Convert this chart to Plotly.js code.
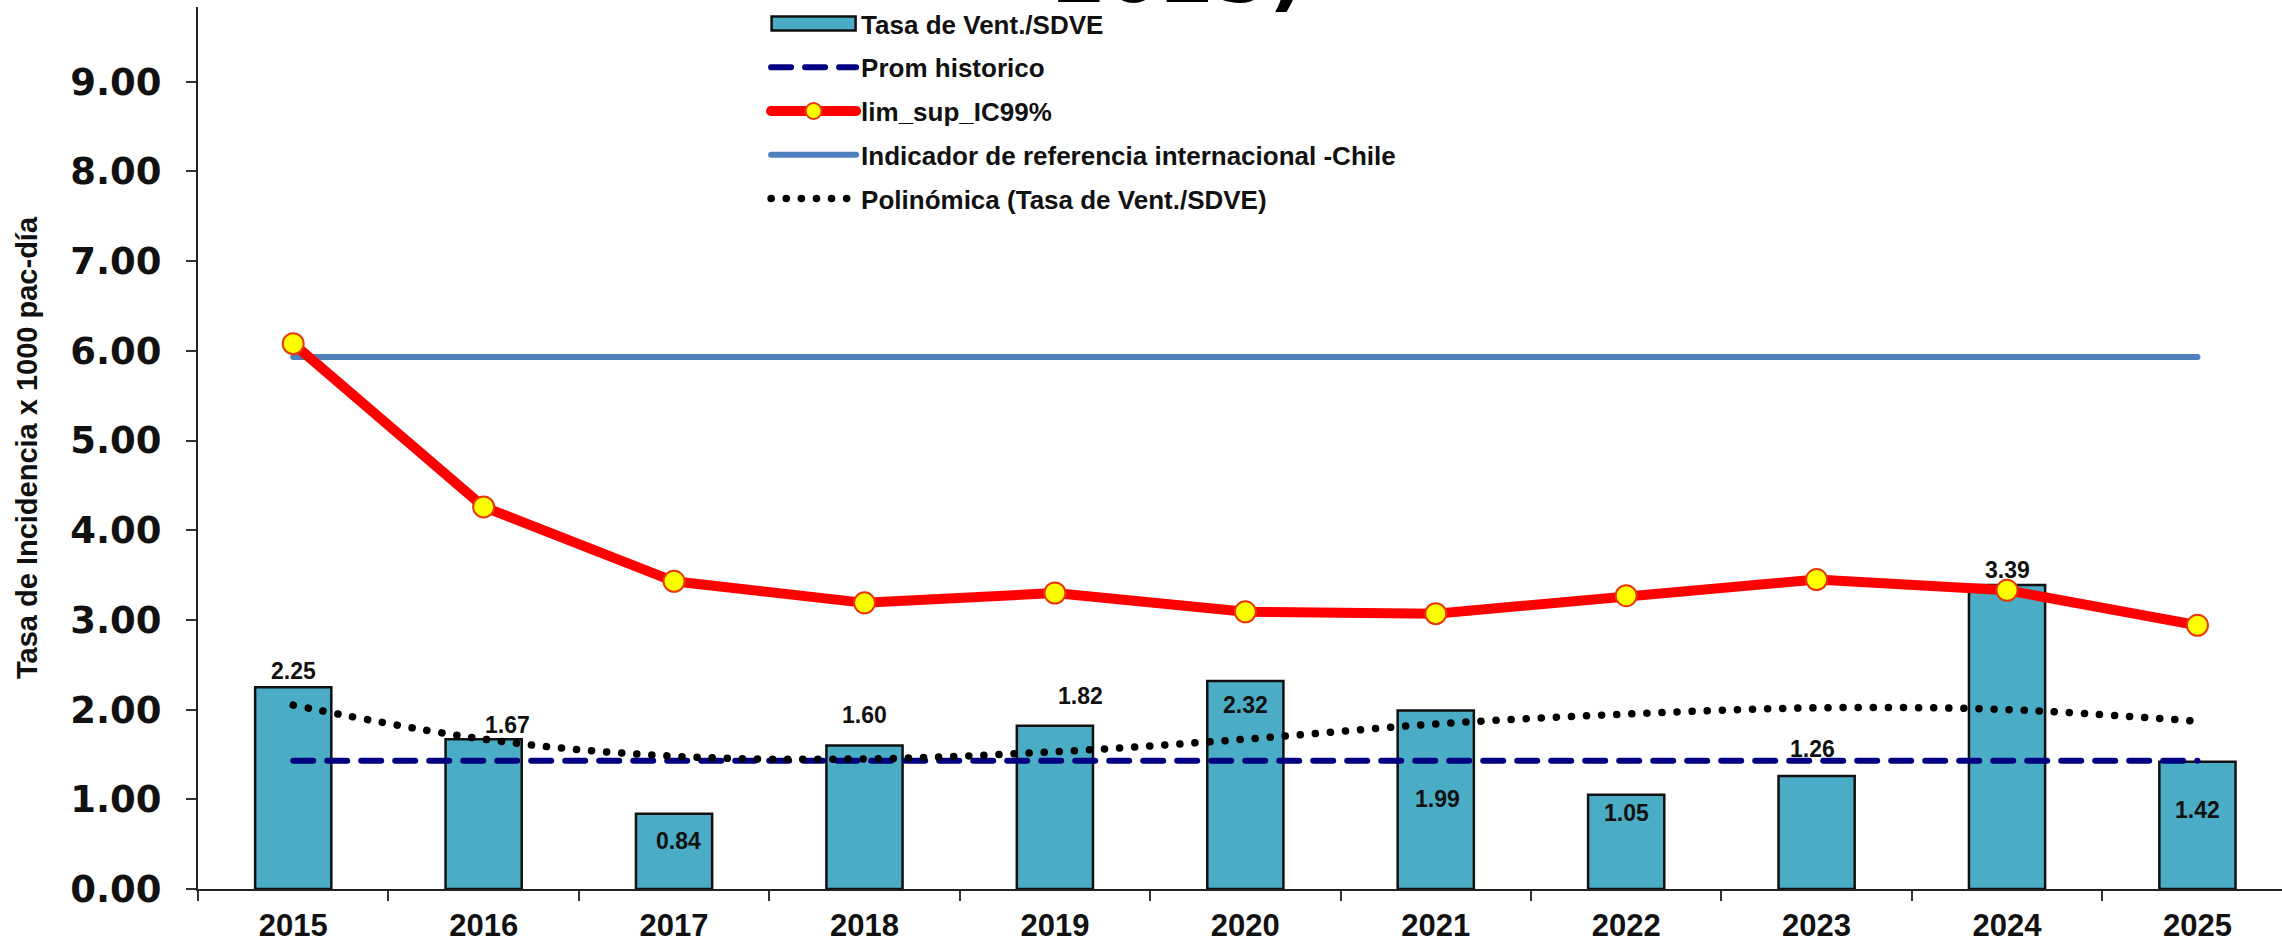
<!DOCTYPE html>
<html><head><meta charset="utf-8">
<script src="https://cdn.plot.ly/plotly-3.0.1.min.js"></script>
<style>
html,body{margin:0;padding:0;background:#fff;overflow:hidden}
#chart{width:2282px;height:942px}
.scatterlayer .js-line, .legendlines .js-line{stroke-linecap:round;}
</style></head><body><div id="chart"></div>
<script>
// ---- data ----
const years = ['2015','2016','2017','2018','2019','2020','2021','2022','2023','2024','2025'];
const tasaVent = [2.25, 1.67, 0.84, 1.60, 1.82, 2.32, 1.99, 1.05, 1.26, 3.39, 1.42];
const promHistorico = [1.43, 1.43, 1.43, 1.43, 1.43, 1.43, 1.43, 1.43, 1.43, 1.43, 1.43];
const limSupIC99 = [6.08, 4.26, 3.43, 3.19, 3.30, 3.09, 3.07, 3.27, 3.45, 3.33, 2.94];
const indicadorChile = [5.93, 5.93, 5.93, 5.93, 5.93, 5.93, 5.93, 5.93, 5.93, 5.93, 5.93];
const polinomica = [2.05, 1.67, 1.48, 1.45, 1.53, 1.67, 1.84, 1.95, 2.02, 2.00, 1.87];
const yTicks = [0, 1, 2, 3, 4, 5, 6, 7, 8, 9];
const seriesNames = ['Tasa de Vent./SDVE', 'Prom historico', 'lim_sup_IC99%',
  'Indicador de referencia internacional -Chile', 'Polinómica (Tasa de Vent./SDVE)'];
const yTitle = 'Tasa de Incidencia x 1000 pac-día';
const titleTail = '2025)';

// ---- label placement (style only, pixels) ----
const labelDX = [0, 24, 4, 0, 26, 0, 2, 0, -4, 0, 0];
const labelDY = [16, 14, -27, 30, 30, -24, -88, -18, 27, 15, -48];

const boldArial = {family: 'Liberation Sans, Arial, sans-serif', weight: 700, color: '#111'};

const traces = [
  {type: 'bar', x: years, y: tasaVent, name: seriesNames[0], legendrank: 1, legendgroup: 'a',
   width: 0.4, marker: {color: '#4BACC6', line: {color: '#111', width: 2.5}}, hoverinfo: 'skip'},
  {type: 'scatter', mode: 'lines', x: years, y: promHistorico, name: seriesNames[1], legendrank: 2, legendgroup: 'b',
   line: {color: '#000080', width: 6, dash: '20px,14px'}},
  {type: 'scatter', mode: 'lines', x: years, y: polinomica, name: seriesNames[4], legendrank: 5, legendgroup: 'e',
   line: {color: '#000', width: 7.5, dash: '0.1px,15px', shape: 'spline'}},
  {type: 'scatter', mode: 'lines', x: years, y: indicadorChile, name: seriesNames[3], legendrank: 4, legendgroup: 'd',
   line: {color: '#4F81BD', width: 6}},
  {type: 'scatter', mode: 'lines+markers', x: years, y: limSupIC99, name: seriesNames[2], legendrank: 3, legendgroup: 'c',
   line: {color: '#FF0000', width: 10},
   marker: {color: '#FFFF00', size: 21, line: {color: '#E8380A', width: 2}}}
];

const annotations = years.map((yr, i) => ({
  x: i, y: tasaVent[i], xref: 'x', yref: 'y', text: tasaVent[i].toFixed(2),
  showarrow: false, xanchor: 'center', yanchor: 'middle',
  xshift: labelDX[i], yshift: labelDY[i],
  font: Object.assign({size: 23}, boldArial)
}));
annotations.push({
  text: titleTail, xref: 'paper', yref: 'paper', x: 0.4707, y: 0.983,
  xanchor: 'center', yanchor: 'bottom', showarrow: false,
  font: {family: 'DejaVu Sans, sans-serif', size: 78, weight: 700, color: '#000'}
});

const layout = {
  width: 2282, height: 942,
  margin: {l: 198, r: 0, t: 7, b: 53, pad: 0},
  paper_bgcolor: '#fff', plot_bgcolor: '#fff',
  showlegend: true,
  legend: {x: 0.2726, xanchor: 'left', y: 1.008, yanchor: 'top',
    font: Object.assign({size: 26}, boldArial), bgcolor: 'rgba(0,0,0,0)',
    itemwidth: 85, tracegroupgap: 7, traceorder: 'grouped'},
  xaxis: {type: 'category', range: [-0.5, 10.444], tickson: 'boundaries',
    ticks: 'outside', ticklen: 10, tickwidth: 2, tickcolor: '#333',
    showline: true, linecolor: '#222', linewidth: 2, showgrid: false, zeroline: false,
    tickfont: Object.assign({size: 31}, boldArial), ticklabelstandoff: 8},
  yaxis: {range: [0, 9.833], tickvals: yTicks, tickformat: '.2f',
    ticks: 'outside', ticklen: 10, tickwidth: 2, tickcolor: '#333',
    showline: true, linecolor: '#222', linewidth: 2, showgrid: false, zeroline: false,
    tickfont: {family: 'DejaVu Sans, sans-serif', size: 37, weight: 700, color: '#111'},
    ticklabelstandoff: 17,
    title: {text: yTitle, standoff: 24, font: Object.assign({size: 29}, boldArial)}},
  annotations: annotations,
  bargap: 0.6
};

function widenBarSwatch() {
  document.querySelectorAll('.legend .legendpoints path').forEach(p => {
    const d = p.getAttribute('d') || '';
    if (/^M6,6H-6V-6H6Z/.test(d)) p.setAttribute('d', 'M42,7H-42V-7H42Z');
  });
}
Plotly.newPlot('chart', traces, layout, {staticPlot: true, displayModeBar: false}).then(() => {
  widenBarSwatch();
  setTimeout(widenBarSwatch, 50);
});
</script></body></html>
